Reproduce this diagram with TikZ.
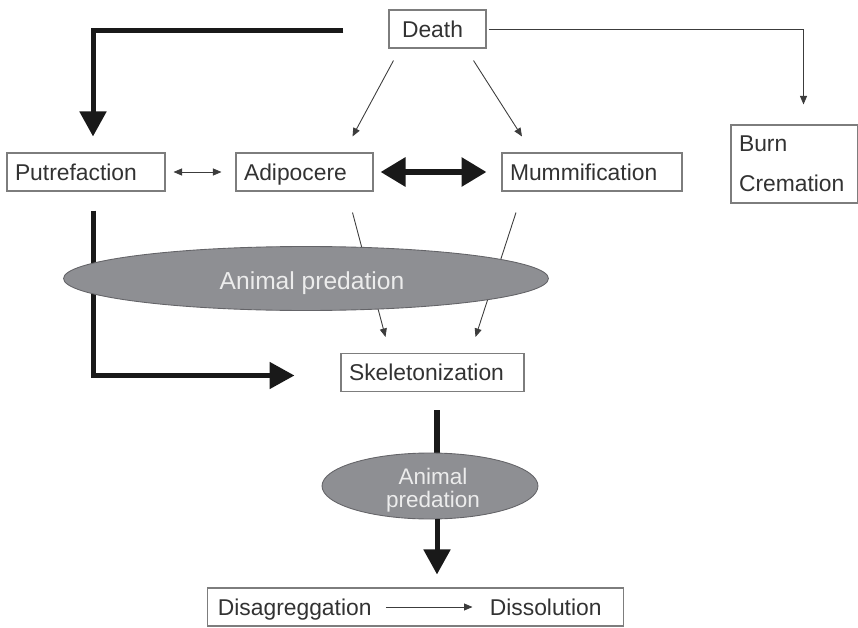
\documentclass[tikz,border=0pt]{standalone}
\usepackage{fontspec}
\setmainfont{Liberation Sans}
\usepackage{xcolor}
\usepackage{tikz}
\usetikzlibrary{arrows.meta,positioning,calc,shapes.geometric}

\definecolor{boxgray}{RGB}{125,125,125}
\definecolor{txtgray}{RGB}{50,50,50}
\definecolor{predgray}{RGB}{142,143,147}
\definecolor{predline}{RGB}{100,100,104}
\definecolor{predtxt}{RGB}{236,236,236}
\definecolor{arrgray}{RGB}{60,60,60}
\definecolor{heavy}{RGB}{25,25,25}

\begin{document}
\begin{tikzpicture}[
  x=0.02cm, y=-0.02cm,
  box/.style={draw=boxgray, line width=0.6pt, text=txtgray, align=left, font=\fontsize{13}{15}\selectfont, inner xsep=0.16cm, inner ysep=0pt, minimum height=0.76cm},
  oneline/.style={text height=9.3pt, text depth=0pt},
  txt/.style={text=txtgray, font=\fontsize{13}{15}\selectfont, inner sep=0pt, oneline},
  pred/.style={ellipse, draw=predline, line width=0.5pt, fill=predgray, inner sep=0pt},
  predlbl/.style={text=predtxt, align=center, inner sep=0pt},
  thinarr/.style={draw=arrgray, line width=0.5pt, -{Triangle[length=0.17cm, width=0.14cm]}},
  thickarr/.style={draw=heavy, line width=0.1cm, -{Triangle[length=0.5cm, width=0.52cm]}},
  thickline/.style={draw=heavy, line width=0.11cm},
  >=Latex
]
\useasboundingbox (0,0) rectangle (858,628);

\node[box, oneline, text width=1.62cm] (death) at (437.5,29) {\hspace*{0.1cm}Death};
\node[box, oneline, text width=2.84cm] (putref) at (86,172) {Putrefaction};
\node[box, oneline, text width=2.42cm] (adipo) at (304.5,172) {Adipocere};
\node[box, oneline, text width=3.28cm] (mummi) at (592,172) {Mummification};
\node[box, text width=2.22cm, minimum height=1.56cm, font=\fontsize{13}{23}\selectfont] (burn) at (794.5,164) {Burn\\Cremation};
\node[box, oneline, text width=3.34cm] (skelet) at (432.5,372.5) {Skeletonization};
\node[box, minimum width=8.34cm] (bottom) at (415.5,607) {};
\node[txt, anchor=west] (disag) at ($(bottom.west)+(11,0)$) {Disagreggation};
\node[txt, anchor=west] (dissol) at ($(bottom.west)+(283,0)$) {Dissolution};

\draw[thickarr] ($(death.west)+(-45,2)$) -| ($(putref.north)+(7,-16)$);
\draw[thinarr, shorten <=0.04cm] (death.east) -| ($(burn.north)+(9,-20)$);
\draw[thinarr] ($(death.south)+(-44,12)$) -- ($(adipo.north)+(48,-16)$);
\draw[thinarr] ($(death.south)+(36,12)$) -- ($(mummi.north)+(-70,-16)$);

\draw[draw=arrgray, line width=0.5pt, {Triangle[length=0.17cm, width=0.14cm]}-{Triangle[length=0.17cm, width=0.14cm]}, shorten <=0.16cm, shorten >=0.28cm] (putref.east) -- (adipo.west);
\draw[draw=heavy, line width=0.12cm, {Triangle[length=0.5cm, width=0.56cm]}-{Triangle[length=0.5cm, width=0.56cm]}, shorten <=0.14cm, shorten >=0.3cm] (adipo.east) -- (mummi.west);

\draw[thinarr] ($(adipo.south)+(48,21)$) -- ($(skelet.north)+(-47,-16)$);
\draw[thinarr] ($(mummi.south)+(-76,21)$) -- ($(skelet.north)+(43,-16)$);
\draw[thickarr] ($(putref.south)+(7,19)$) |- ($(skelet.west)+(-46,3)$);

\node[pred, minimum width=9.7cm, minimum height=1.28cm] (pred1) at (306,278.5) {};
\node[predlbl, font=\fontsize{14}{16}\selectfont] (pred1lbl) at ($(pred1.center)+(6,5)$) {Animal predation};

\draw[thickline] ($(skelet.south)+(4.5,18)$) -- ($(skelet.south)+(4.5,70)$);
\node[pred, minimum width=4.32cm, minimum height=1.32cm] (pred2) at (430,486) {};
\node[predlbl, font=\fontsize{12.8}{13.2}\selectfont] (pred2lbl) at ($(pred2.center)+(3,4)$) {Animal\\predation};
\coordinate (p2s) at ($(pred2.south)+(7,0)$);
\draw[thickarr, shorten >=0.26cm] (p2s) -- (p2s |- bottom.north);

\draw[thinarr, shorten <=0.28cm, shorten >=0.34cm] (disag.east) -- (dissol.west);
\end{tikzpicture}
\end{document}
